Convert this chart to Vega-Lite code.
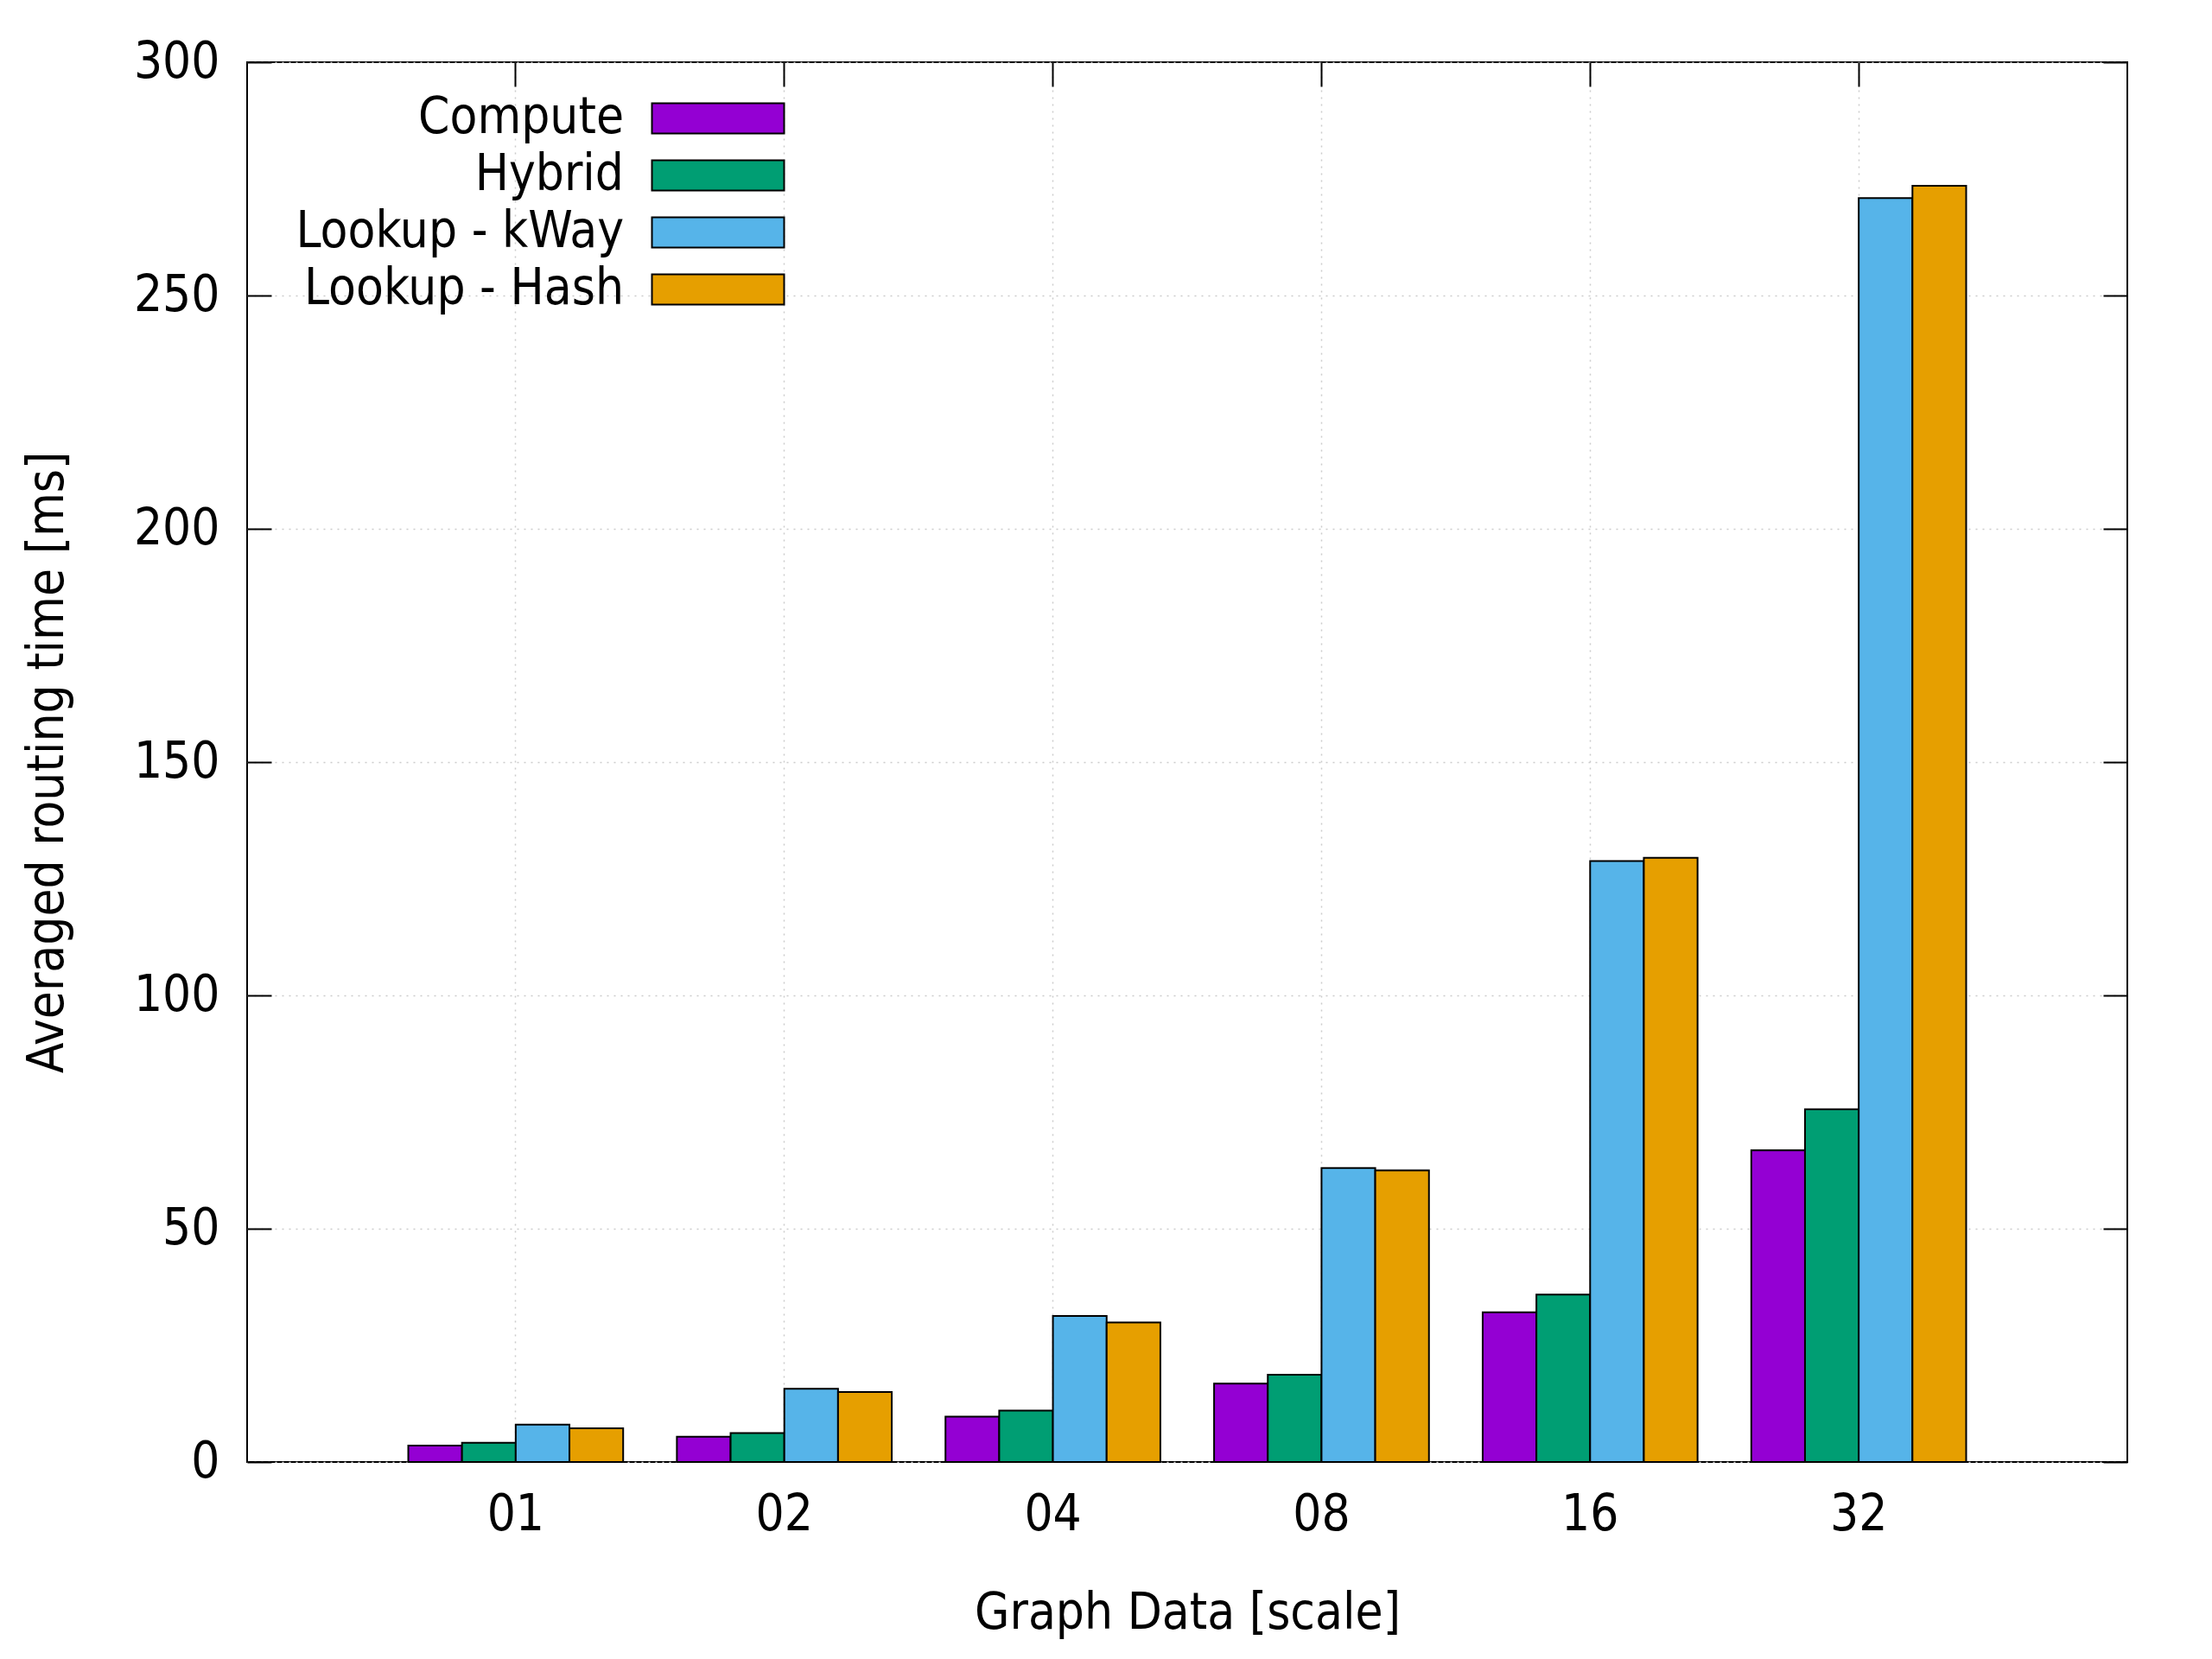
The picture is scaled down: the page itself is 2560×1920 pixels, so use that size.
{
  "$schema": "https://vega.github.io/schema/vega-lite/v6.json",
  "width": 2176,
  "height": 1620,
  "autosize": "none",
  "padding": {"left": 286, "top": 72, "right": 98, "bottom": 228},
  "background": "white",
  "config": {
    "font": "DejaVu Sans Condensed, DejaVu Sans",
    "view": {"stroke": "black", "strokeWidth": 2},
    "axis": {
      "labelFont": "DejaVu Sans Condensed, DejaVu Sans",
      "titleFont": "DejaVu Sans Condensed, DejaVu Sans",
      "labelFontSize": 58,
      "titleFontSize": 58,
      "labelColor": "black",
      "titleColor": "black",
      "titleFontWeight": "normal",
      "domain": false,
      "tickColor": "black",
      "tickWidth": 2,
      "gridColor": "#cccccc",
      "gridDash": [2, 6],
      "gridWidth": 1.5
    }
  },
  "data": {
    "values": [
      {"scale": "01", "method": "Compute", "time": 3.5},
      {"scale": "01", "method": "Hybrid", "time": 4.1},
      {"scale": "01", "method": "Lookup - kWay", "time": 8.0},
      {"scale": "01", "method": "Lookup - Hash", "time": 7.2},
      {"scale": "02", "method": "Compute", "time": 5.4},
      {"scale": "02", "method": "Hybrid", "time": 6.2},
      {"scale": "02", "method": "Lookup - kWay", "time": 15.7},
      {"scale": "02", "method": "Lookup - Hash", "time": 15.0},
      {"scale": "04", "method": "Compute", "time": 9.7},
      {"scale": "04", "method": "Hybrid", "time": 11.0},
      {"scale": "04", "method": "Lookup - kWay", "time": 31.3},
      {"scale": "04", "method": "Lookup - Hash", "time": 29.9},
      {"scale": "08", "method": "Compute", "time": 16.8},
      {"scale": "08", "method": "Hybrid", "time": 18.7},
      {"scale": "08", "method": "Lookup - kWay", "time": 63.0},
      {"scale": "08", "method": "Lookup - Hash", "time": 62.5},
      {"scale": "16", "method": "Compute", "time": 32.1},
      {"scale": "16", "method": "Hybrid", "time": 35.9},
      {"scale": "16", "method": "Lookup - kWay", "time": 128.8},
      {"scale": "16", "method": "Lookup - Hash", "time": 129.5},
      {"scale": "32", "method": "Compute", "time": 66.8},
      {"scale": "32", "method": "Hybrid", "time": 75.6},
      {"scale": "32", "method": "Lookup - kWay", "time": 270.9},
      {"scale": "32", "method": "Lookup - Hash", "time": 273.5}
    ]
  },
  "layer": [
    {
      "mark": {"type": "bar", "stroke": "black", "strokeWidth": 2, "opacity": 1},
      "encoding": {
        "x": {
          "field": "scale",
          "type": "nominal",
          "sort": ["01", "02", "04", "08", "16", "32"],
          "scale": {"paddingInner": 0.2, "paddingOuter": 0.6},
          "axis": {
            "orient": "bottom",
            "title": "Graph Data [scale]",
            "labelAngle": 0,
            "ticks": false,
            "grid": true,
            "bandPosition": 0.5,
            "labelPadding": 32,
            "titlePadding": 56
          }
        },
        "xOffset": {
          "field": "method",
          "type": "nominal",
          "sort": ["Compute", "Hybrid", "Lookup - kWay", "Lookup - Hash"],
          "scale": {"paddingInner": 0, "paddingOuter": 0}
        },
        "y": {
          "field": "time",
          "type": "quantitative",
          "scale": {"domain": [0, 300], "nice": false},
          "axis": {
            "orient": "left",
            "title": "Averaged routing time [ms]",
            "values": [0, 50, 100, 150, 200, 250, 300],
            "grid": true,
            "tickSize": -28,
            "labelPadding": 60,
            "titlePadding": 70
          }
        },
        "color": {
          "field": "method",
          "type": "nominal",
          "scale": {
            "domain": ["Compute", "Hybrid", "Lookup - kWay", "Lookup - Hash"],
            "range": ["#9400d3", "#009e73", "#56b4e9", "#e69f00"]
          },
          "legend": {
            "title": null,
            "orient": "none",
            "legendX": 516,
            "legendY": 36,
            "padding": 0,
            "labelFont": "DejaVu Sans Condensed, DejaVu Sans",
            "labelFontSize": 58,
            "labelColor": "black",
            "labelAlign": "right",
            "labelOffset": -138,
            "labelLimit": 0,
            "symbolType": "M-4.371,-1H4.371V1H-4.371Z",
            "symbolSize": 1225,
            "symbolStrokeColor": "black",
            "symbolStrokeWidth": 2,
            "symbolOpacity": 1,
            "rowPadding": 8
          }
        }
      }
    },
    {
      "mark": {"type": "point", "opacity": 0},
      "encoding": {
        "x": {
          "field": "scale",
          "type": "nominal",
          "sort": ["01", "02", "04", "08", "16", "32"],
          "axis": {
            "orient": "top",
            "title": null,
            "labels": false,
            "grid": false,
            "bandPosition": 0.5,
            "tickSize": -28
          }
        },
        "y": {
          "field": "time",
          "type": "quantitative",
          "axis": {
            "orient": "right",
            "title": null,
            "labels": false,
            "grid": false,
            "values": [0, 50, 100, 150, 200, 250, 300],
            "tickSize": -28
          }
        }
      }
    }
  ],
  "resolve": {"axis": {"x": "independent", "y": "independent"}}
}
